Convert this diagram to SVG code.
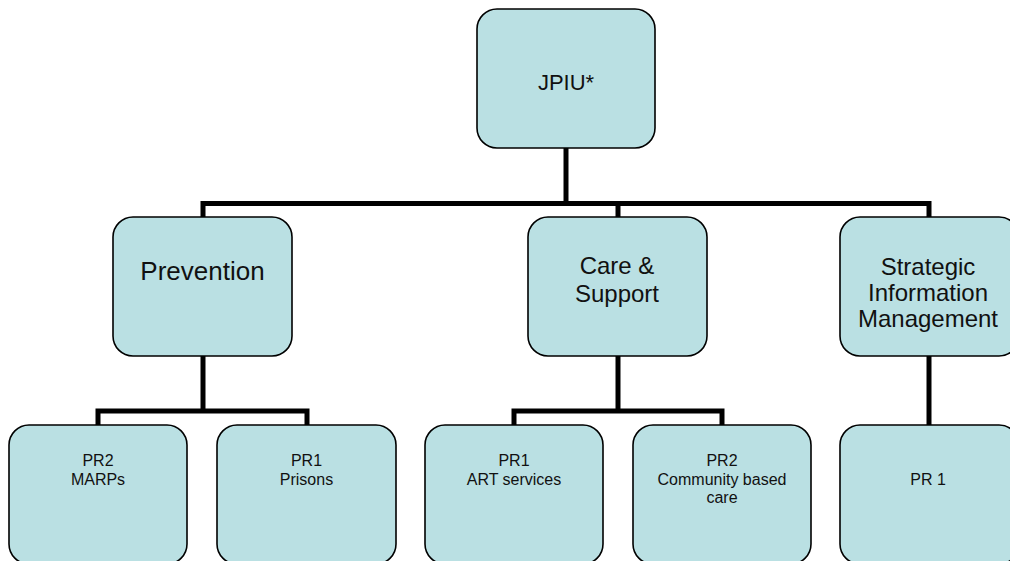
<svg xmlns="http://www.w3.org/2000/svg" width="1010" height="561" viewBox="0 0 1010 561">
  <style>
    .box { fill: #BAE0E3; stroke: #000; stroke-width: 1.6; }
    .wire { fill: none; stroke: #000; stroke-width: 5; stroke-linejoin: miter; stroke-linecap: butt; }
    .lbl { font-family: "Liberation Sans", Arial, sans-serif; fill: #111; text-anchor: middle; }
    .big { font-size: 24px; }
    .small { font-size: 16px; }
  </style>

  <!-- connectors -->
  <g id="connectors">
    <path class="wire" d="M566,148 V203.5"/>
    <path class="wire" d="M203,217 V203.5 H929 V217"/>
    <path class="wire" d="M618,203.5 V217"/>
    <path class="wire" d="M203,356 V411"/>
    <path class="wire" d="M98,425 V411 H307 V425"/>
    <path class="wire" d="M618,356 V411"/>
    <path class="wire" d="M514,425 V411 H722 V425"/>
    <path class="wire" d="M929,356 V425"/>
  </g>

  <!-- top level -->
  <g id="jpiu">
    <rect class="box" x="477" y="9" width="178" height="139" rx="20"/>
    <text class="lbl" x="566" y="90" font-size="22">JPIU*</text>
  </g>

  <!-- second level -->
  <g id="prevention">
    <rect class="box" x="113" y="217" width="179" height="139" rx="20"/>
    <text class="lbl" x="202.5" y="280" font-size="26">Prevention</text>
  </g>
  <g id="care-support">
    <rect class="box" x="528" y="217" width="179" height="139" rx="20"/>
    <text class="lbl big" x="617" y="274">Care &amp;</text>
    <text class="lbl big" x="617" y="302">Support</text>
  </g>
  <g id="strategic-info">
    <rect class="box" x="840" y="217" width="179" height="139" rx="20"/>
    <text class="lbl big" x="928" y="275">Strategic</text>
    <text class="lbl big" x="928" y="301">Information</text>
    <text class="lbl big" x="928" y="327">Management</text>
  </g>

  <!-- third level -->
  <g id="pr2-marps">
    <rect class="box" x="9" y="425" width="178" height="139" rx="20"/>
    <text class="lbl small" x="98" y="466">PR2</text>
    <text class="lbl small" x="98" y="484.5">MARPs</text>
  </g>
  <g id="pr1-prisons">
    <rect class="box" x="217" y="425" width="179" height="139" rx="20"/>
    <text class="lbl small" x="306.5" y="466">PR1</text>
    <text class="lbl small" x="306.5" y="484.5">Prisons</text>
  </g>
  <g id="pr1-art">
    <rect class="box" x="425" y="425" width="178" height="139" rx="20"/>
    <text class="lbl small" x="514" y="466">PR1</text>
    <text class="lbl small" x="514" y="484.5">ART services</text>
  </g>
  <g id="pr2-community">
    <rect class="box" x="633" y="425" width="178" height="139" rx="20"/>
    <text class="lbl small" x="722" y="466">PR2</text>
    <text class="lbl small" x="722" y="484.5">Community based</text>
    <text class="lbl small" x="722" y="503">care</text>
  </g>
  <g id="pr1-sim">
    <rect class="box" x="840" y="425" width="179" height="139" rx="20"/>
    <text class="lbl small" x="928" y="485">PR 1</text>
  </g>
</svg>
